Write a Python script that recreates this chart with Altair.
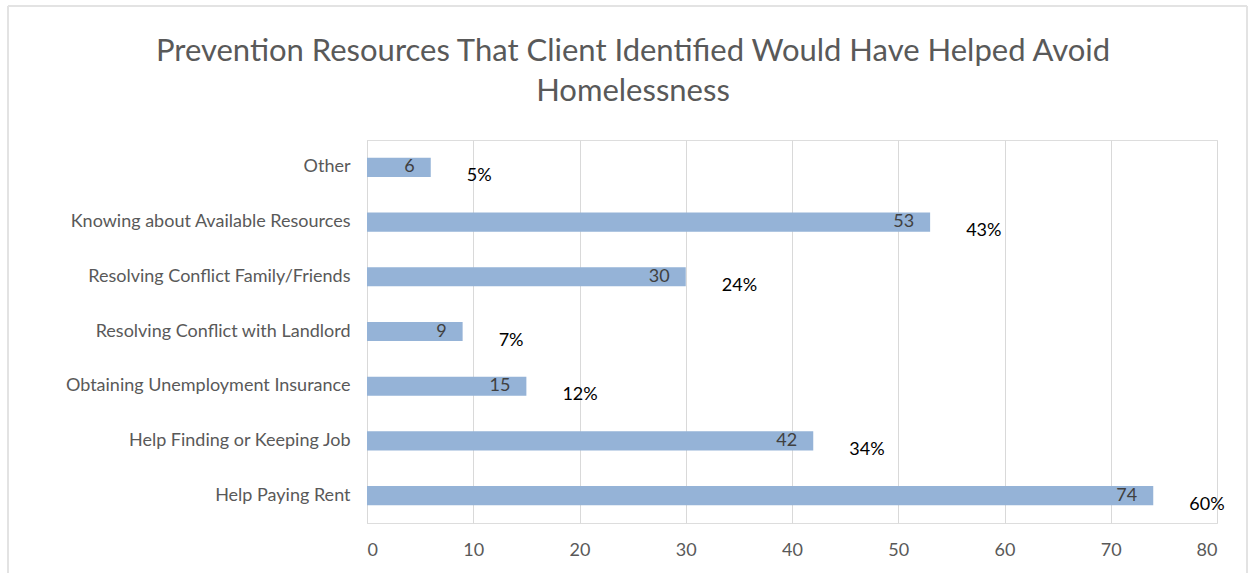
import altair as alt
import pandas as pd

categories = [
    "Other",
    "Knowing about Available Resources",
    "Resolving Conflict Family/Friends",
    "Resolving Conflict with Landlord",
    "Obtaining Unemployment Insurance",
    "Help Finding or Keeping Job",
    "Help Paying Rent",
]
counts = [6, 53, 30, 9, 15, 42, 74]
percents = ["5%", "43%", "24%", "7%", "12%", "34%", "60%"]
x_ticks = [0, 10, 20, 30, 40, 50, 60, 70, 80]

title_lines = [
    "Prevention Resources That Client  Identified Would Have Helped Avoid",
    "Homelessness",
]

df = pd.DataFrame({"category": categories, "count": counts, "pct": percents})

FONT = "Lato"

y_enc = alt.Y(
    "category:N",
    sort=categories,
    title=None,
    scale=alt.Scale(paddingInner=0.65, paddingOuter=0.325),
    axis=alt.Axis(
        ticks=False,
        domain=True,
        domainColor="#D9D9D9",
        labelPadding=17,
        labelColor="#595959",
        labelFontSize=18,
        labelFont=FONT,
        labelLimit=0,
    ),
)

x_enc = alt.X(
    "count:Q",
    title=None,
    scale=alt.Scale(domain=[0, 80], nice=False),
    axis=alt.Axis(
        values=x_ticks,
        ticks=False,
        domain=False,
        grid=True,
        gridColor="#D9D9D9",
        labelPadding=18,
        labelColor="#595959",
        labelFontSize=18,
        labelFont=FONT,
    ),
)

base = alt.Chart(df)

bars = base.mark_bar(color="#95B3D7").encode(x=x_enc, y=y_enc)

count_labels = base.mark_text(
    align="right", baseline="middle", dx=-16, color="#404040", fontSize=18, font=FONT
).encode(x="count:Q", y=alt.Y("category:N", sort=categories), text="count:Q")

pct_labels = base.mark_text(
    align="left", baseline="middle", dx=36, dy=9, color="#000000", fontSize=18, font=FONT
).encode(x="count:Q", y=alt.Y("category:N", sort=categories), text="pct:N")

border_top = alt.Chart(df).mark_rule(color="#E3E3E3", strokeWidth=1.5).encode(
    x=alt.value(-359), x2=alt.value(880), y=alt.value(-134)
)
border_left = alt.Chart(df).mark_rule(color="#E3E3E3", strokeWidth=1.5).encode(
    x=alt.value(-359), y=alt.value(-134), y2=alt.value(433)
)
border_right = alt.Chart(df).mark_rule(color="#E3E3E3", strokeWidth=1.5).encode(
    x=alt.value(880), y=alt.value(-134), y2=alt.value(433)
)

chart = (
    alt.layer(border_top, border_left, border_right, bars, count_labels, pct_labels)
    .properties(
        width=850,
        height=383,
        autosize=alt.AutoSizeParams(type="none"),
        padding={"left": 367, "top": 140, "right": 36, "bottom": 50},
        title=alt.TitleParams(
            text=title_lines,
            font=FONT,
            fontSize=31,
            fontWeight="normal",
            color="#595959",
            anchor="middle",
            dx=-159,
            offset=-103,
            lineHeight=40,
        ),
    )
    .configure_view(stroke=None)
    .configure(background="white")
)

chart.save("out.html", embed_options={"renderer": "svg", "actions": False})
